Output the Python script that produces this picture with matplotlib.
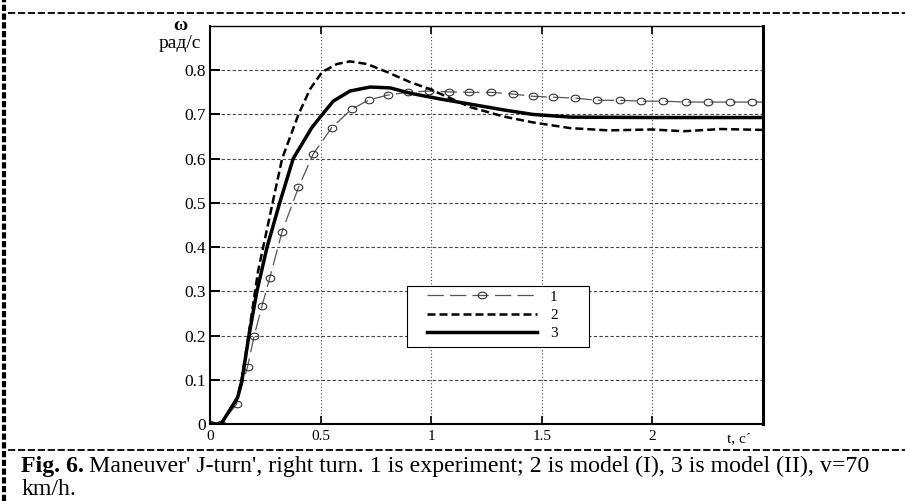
import matplotlib.pyplot as plt
from matplotlib.lines import Line2D
from matplotlib.patches import Rectangle
from matplotlib.path import Path
from matplotlib.transforms import Affine2D

# experiment (curve 1)
t_exp = [0, 0.05, 0.12, 0.17, 0.20, 0.235, 0.27, 0.326, 0.40, 0.466, 0.55, 0.64,
         0.72, 0.805, 0.895, 0.99, 1.08, 1.17, 1.27, 1.37, 1.46, 1.55, 1.65,
         1.75, 1.855, 1.95, 2.05, 2.15, 2.25, 2.35, 2.45, 2.5]
w_exp = [0, 0, 0.045, 0.13, 0.20, 0.267, 0.33, 0.435, 0.535, 0.61, 0.67, 0.712,
         0.733, 0.744, 0.75, 0.753, 0.751, 0.75, 0.75, 0.746, 0.741, 0.739, 0.737,
         0.732, 0.732, 0.730, 0.730, 0.728, 0.728, 0.728, 0.728, 0.728]

# model (I) (curve 2)
t_m1 = [0, 0.05, 0.125, 0.143, 0.174, 0.217, 0.283, 0.326, 0.40, 0.452, 0.507,
        0.574, 0.633, 0.71, 0.80, 0.905, 0.995, 1.18, 1.33, 1.46, 1.63, 1.8,
        2.0, 2.14, 2.31, 2.5]
w_m1 = [0, 0, 0.06, 0.1, 0.2, 0.345, 0.5, 0.6, 0.70, 0.757, 0.796,
        0.814, 0.82, 0.814, 0.796, 0.773, 0.757, 0.716, 0.695, 0.682, 0.669, 0.664,
        0.666, 0.662, 0.667, 0.665]

# model (II) (curve 3)
t_m2 = [0, 0.05, 0.125, 0.145, 0.176, 0.212, 0.258, 0.315, 0.376, 0.46, 0.498,
        0.557, 0.633, 0.724, 0.815, 0.905, 1.04, 1.18, 1.33, 1.46, 1.63, 2.0, 2.5]
w_m2 = [0, 0, 0.06, 0.1, 0.2, 0.3, 0.4, 0.5, 0.6, 0.67, 0.694,
        0.73, 0.753, 0.762, 0.76, 0.748, 0.735, 0.723, 0.71, 0.70, 0.694, 0.693, 0.693]

series_names = ['1', '2', '3']
x_ticks = [0, 0.5, 1, 1.5, 2]
x_labels = ['0', '0.5', '1', '1.5', '2']
y_ticks = [0, 0.1, 0.2, 0.3, 0.4, 0.5, 0.6, 0.7, 0.8]
y_labels = ['0', '0.1', '0.2', '0.3', '0.4', '0.5', '0.6', '0.7', '0.8']

plt.rcParams['font.family'] = ['Liberation Serif', 'DejaVu Serif']

W, H = 905, 501
fig = plt.figure(figsize=(W / 100, H / 100), dpi=100)
ax = fig.add_axes([210 / W, 1 - 424 / H, 553 / W, 398 / H])

# slightly flattened circle, like the stretched markers of the scan
oval = Path.unit_circle().transformed(Affine2D().scale(1.3, 1.0))

ax.plot(t_exp, w_exp, color='#555555', lw=0.9, ls=(0, (13, 5)),
        marker=oval, ms=6.2, mfc='none', mec='#333333', mew=0.8,
        markevery=list(range(len(t_exp) - 1)), label=series_names[0])
ax.plot(t_m1, w_m1, color='black', lw=1.8, ls=(0, (3.2, 1.6)), label=series_names[1])
ax.plot(t_m2, w_m2, color='black', lw=2.5, label=series_names[2])

ax.set_xlim(0, 2.5)
ax.set_ylim(0, 0.9)
ax.set_xticks(x_ticks)
ax.set_xticklabels(x_labels, fontsize=11)
ax.set_yticks(y_ticks)
ax.set_yticklabels(y_labels, fontsize=12.5)

for y in y_ticks[1:]:
    ax.axhline(y, color='#444444', lw=0.8, ls=(0, (3, 2)), zorder=0)
for x in x_ticks[1:]:
    ax.axvline(x, color='#444444', lw=0.8, ls=(0, (1, 2)), zorder=0)

ax.tick_params(axis='y', direction='in', length=7, width=1.4, pad=3)
ax.tick_params(axis='x', direction='in', length=6, width=1.2, pad=4, top=True)

ax.spines['left'].set_linewidth(1.5)
ax.spines['bottom'].set_linewidth(1.5)
ax.spines['top'].set_linewidth(1.0)
ax.spines['right'].set_linewidth(2.2)

# legend: white box drawn separately so it can be wider than its entries
box = Rectangle((407 / W, 1 - 347 / H), 182 / W, 61 / H, transform=fig.transFigure,
                facecolor='white', edgecolor='black', lw=0.8, zorder=4, clip_on=False)
ax.add_patch(box)
leg = ax.legend(loc='upper left', bbox_to_anchor=(427 / W, 1 - 290 / H),
                bbox_transform=fig.transFigure, frameon=False,
                handlelength=7.2, numpoints=1, fontsize=11, borderpad=0,
                labelspacing=0.3, handletextpad=0.85, borderaxespad=0)
leg.set_zorder(5)

# axis captions
fig.text(180 / W, 1 - 26 / H, 'ω', fontsize=14, fontweight='bold',
         ha='center', va='center')
fig.text(180 / W, 1 - 43 / H, 'рад/с', fontsize=14, ha='center', va='center')
ax.text(2.39, -0.033, 't, c´', fontsize=11, ha='center', va='center')

# page frame lines
fig.add_artist(Line2D([8 / W, 1], [1 - 13 / H] * 2, color='black', lw=1.3,
                      ls=(0, (4, 1.5))))
fig.add_artist(Line2D([8 / W, 1], [1 - 450 / H] * 2, color='black', lw=1.3,
                      ls=(0, (4, 1.5))))
fig.add_artist(Line2D([4 / W] * 2, [0, 1], color='black', lw=3,
                      ls=(0, (1.5, 0.6))))

# figure caption
cap_size = 17.2
t1 = fig.text(21 / W, 1 - 472 / H, 'Fig. 6.', fontsize=cap_size,
              fontweight='bold', va='baseline')
fig.canvas.draw()
bb = t1.get_window_extent()
fig.text((bb.x1 + 5) / W, 1 - 472 / H,
         "Maneuver' J-turn', right turn. 1 is experiment; 2 is model (I), "
         "3 is model (II), v=70", fontsize=cap_size, va='baseline')
fig.text(21 / W, 1 - 495 / H, 'km/h.', fontsize=cap_size, va='baseline')

fig.savefig('out.png', dpi=100)
